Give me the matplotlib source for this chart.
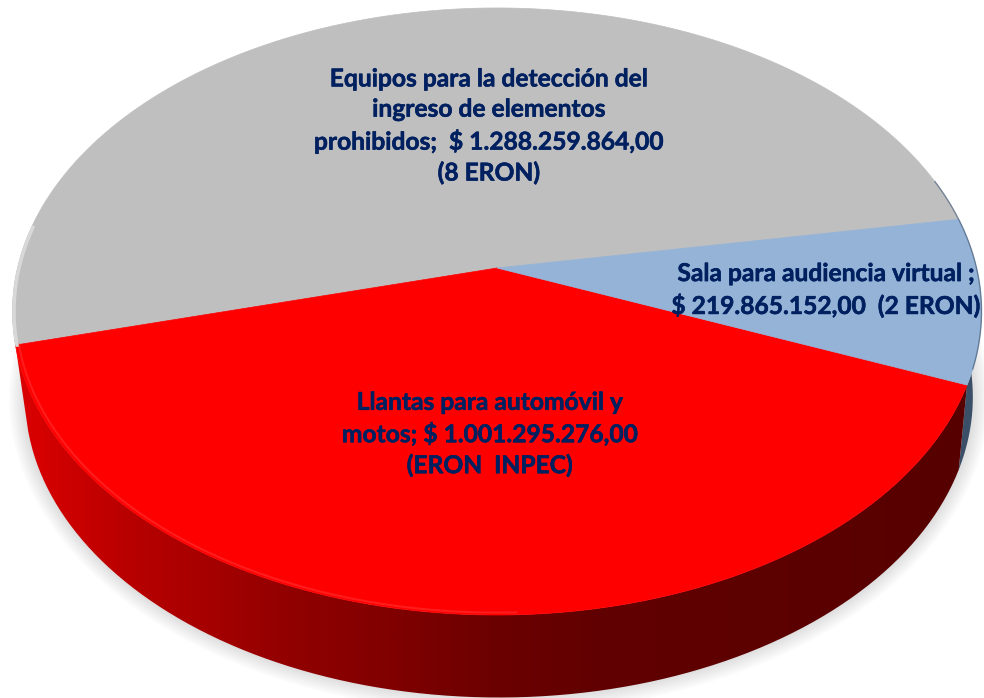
import numpy as np
import matplotlib
matplotlib.use("Agg")
import matplotlib.pyplot as plt
import matplotlib.patheffects as pe
from matplotlib.colors import LinearSegmentedColormap
from matplotlib.patches import PathPatch
from matplotlib.path import Path

# Data
labels = [
    "Equipos para la detección del\ningreso de elementos\nprohibidos;  $ 1.288.259.864,00\n(8 ERON)",
    "Llantas para automóvil y\nmotos; $ 1.001.295.276,00\n(ERON  INPEC)",
    "Sala para audiencia virtual ;\n$ 219.865.152,00  (2 ERON)",
]
values = [1288259864, 1001295276, 219865152]
colors = ["#bfbfbf", "#ff0000", "#95b3d7"]
label_pos = [(489, 126), (490, 434), (826, 290)]

START_ANGLE = 9.66

# pie seen in perspective, center of the slices is not center of the ellipse
PIE_X, PIE_Y = 497, 268
A, B, K = 297.3, 479.5, 0.1433
MID_Y = 311.5


def top_face(theta):
    u, v = np.cos(theta), np.sin(theta)
    return PIE_X + B * u / (1 + K * v), PIE_Y - A * v / (1 + K * v)


def bottom_face(theta):
    x, y = top_face(theta)
    return 499 + (x - PIE_X) * 0.978, 397 + (y - MID_Y) * 0.99


def side_image(ax, theta, cmap, zorder):
    xt, yt = top_face(theta)
    xb, yb = bottom_face(theta)
    verts = np.column_stack([np.r_[xt, xb[::-1]], np.r_[yt, yb[::-1]]])
    patch = PathPatch(Path(np.vstack([verts, verts[0]])), fc="none", ec="none", transform=ax.transData)
    ax.add_patch(patch)
    grad = np.linspace(0, 1, 512).reshape(1, -1)
    im = ax.imshow(grad, extent=[0, 984, 698, 0], cmap=cmap, aspect="auto", zorder=zorder)
    im.set_clip_path(patch)


fig = plt.figure(figsize=(9.84, 6.98), dpi=100)
ax = fig.add_axes([0, 0, 1, 1])

# Soft shadow under the pie
t_all = np.linspace(0, 2 * np.pi, 400)
for grow in range(16, 0, -2):
    ax.fill(499 + (474 + grow) * np.cos(t_all), 397 + (300 + grow) * np.sin(t_all),
            color="#000000", alpha=0.016, lw=0, zorder=1)

fractions = np.array(values) / sum(values)
edges = np.deg2rad(START_ANGLE + 360 * np.r_[0, np.cumsum(fractions)])

# Sides
red_side = LinearSegmentedColormap.from_list(
    "red_side", [(0, "#e00000"), (0.03, "#d80000"), (0.13, "#b80000"), (0.2, "#a80000"), (0.3, "#900000"),
                 (0.4, "#800000"), (0.5, "#6c0000"), (0.6, "#620000"), (1, "#560000")])
blue_side = LinearSegmentedColormap.from_list("blue_side", [(0, "#3b4f68"), (1, "#3b4f68")])
side_image(ax, np.linspace(edges[2], edges[3], 80), blue_side, 2)
side_image(ax, np.linspace(edges[1], edges[2], 200), red_side, 3)

# Top face
for i in range(3):
    theta = np.linspace(edges[i], edges[i + 1], 200)
    x, y = top_face(theta)
    ax.fill(np.r_[PIE_X, x], np.r_[PIE_Y, y], color=colors[i], lw=0.5, zorder=4)

# Bevel on the rim
theta = np.linspace(edges[1], np.deg2rad(272), 120)
x, y = top_face(theta)
ax.plot(PIE_X + (x - PIE_X) * 0.993, PIE_Y + (y - PIE_Y) * 0.993, color="#ff3030", lw=1.5, alpha=0.6, zorder=5)
theta = np.linspace(np.deg2rad(172), edges[1], 40)
x, y = top_face(theta)
ax.plot(x + 1.5, y, color="#d8d8d8", lw=2.5, zorder=5)
theta = np.linspace(edges[2] + np.deg2rad(3), edges[3] + np.deg2rad(8), 60)
x, y = top_face(theta)
ax.plot(x, y, color="#4f6580", lw=1, alpha=0.7, zorder=5)

for label, (lx, ly) in zip(labels, label_pos):
    txt = ax.text(lx, ly, label, ha="center", va="center", family="Lato", weight="bold",
                  fontsize=17.7, color="#002060", linespacing=1.38, zorder=6)
    txt.set_path_effects([pe.withStroke(linewidth=0.4, foreground="#002060")])

ax.set_xlim(0, 984)
ax.set_ylim(698, 0)
ax.axis("off")
plt.savefig("out.png", dpi=100)
plt.close()
